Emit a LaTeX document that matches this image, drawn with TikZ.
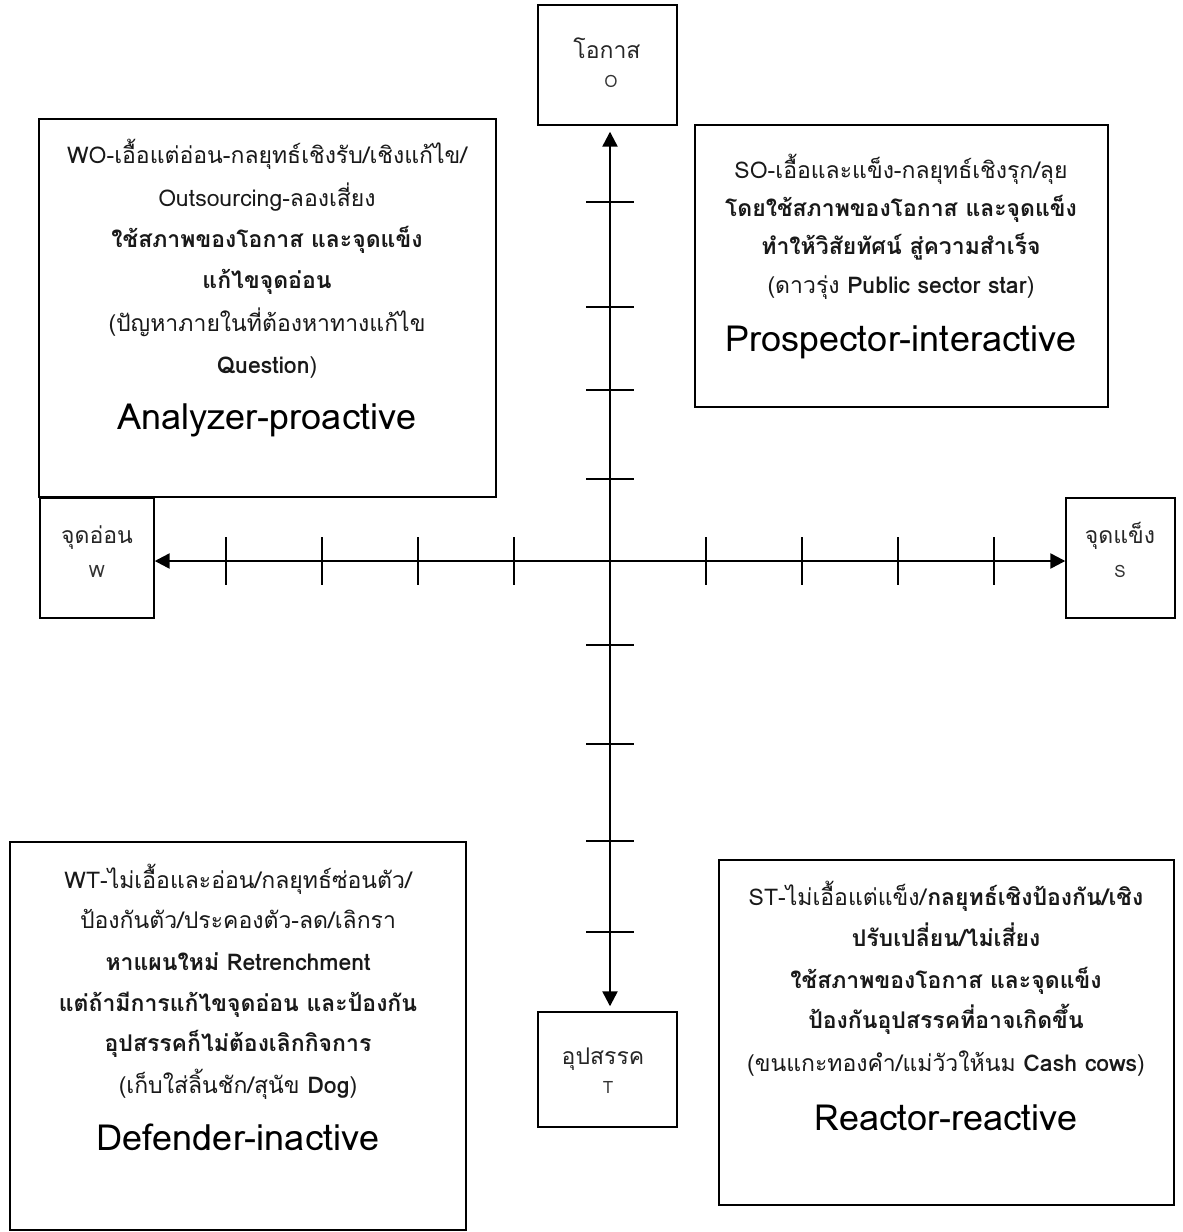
\documentclass[tikz,border=0pt]{standalone}
\usepackage{fontspec}
\setmainfont[Script=Thai]{Loma}
\usetikzlibrary{arrows.meta}
\tikzset{
  box/.style={draw=black, line width=1.4pt, inner sep=0pt, fill=none},
  txt/.style={anchor=base, inner sep=0pt, font=\fontsize{23}{27}\selectfont, text=black!90},
  ttl/.style={anchor=base, inner sep=0pt, font=\fontsize{36}{40}\selectfont, text=black},
  axlbl/.style={anchor=base, inner sep=0pt, font=\fontsize{23}{27}\selectfont, text=black!85},
  axletter/.style={anchor=base, inner sep=0pt, font=\fontsize{17}{20}\selectfont, text=black!80},
  axisline/.style={line width=2.4pt, -{Triangle[length=15pt,width=15pt]}},
  tick/.style={line width=2pt},
}
\begin{document}
\begin{tikzpicture}[x=1pt,y=-1pt]
\useasboundingbox[fill=white] (0,0) rectangle (1183,1232);

% ---- quadrant boxes
\node[box, minimum width=457pt, minimum height=378pt] (wo) at (267.5,308) {};
\node[box, minimum width=413pt, minimum height=282pt] (so) at (901.5,266) {};
\node[box, minimum width=456pt, minimum height=388pt] (wt) at (238,1036) {};
\node[box, minimum width=455pt, minimum height=345pt] (st) at (946.5,1032.5) {};

% ---- axis end boxes
\node[box, minimum width=139pt, minimum height=120pt] (obox) at (607.5,65) {};
\node[box, minimum width=139pt, minimum height=115pt] (tbox) at (607.5,1069.5) {};
\node[box, minimum width=114pt, minimum height=120pt] (wbox) at (97,558) {};
\node[box, minimum width=109pt, minimum height=120pt] (sbox) at (1120.5,558) {};

\node[axlbl] (ol) at (607,58) {โอกาส};
\node[axletter] (oletter) at (611,87) {O};
\node[axlbl] (tl) at (603,1064) {อุปสรรค};
\node[axletter] (tletter) at (608,1093) {T};
\node[axlbl] (wl) at (97,543) {จุดอ่อน};
\node[axletter] (wletter) at (97,577) {W};
\node[axlbl] (sl) at (1120,543) {จุดแข็ง};
\node[axletter] (sletter) at (1120,577) {S};

% ---- axes
\coordinate (ctr) at (610,561);
\draw[axisline] (ctr) -- (wbox.east |- ctr);
\draw[axisline] (ctr) -- (sbox.west |- ctr);
\draw[axisline, shorten >=6pt] (ctr) -- (obox.south -| ctr);
\draw[axisline, shorten >=5pt] (ctr) -- (tbox.north -| ctr);

% ---- ticks
\foreach \x in {226,322,418,514,706,802,898,994}
  \draw[tick] (\x,537) -- (\x,585);
\foreach \y in {202,307,390,479,645,744,841,932}
  \draw[tick] (586,\y) -- (634,\y);

% ---- WO text
\node[txt] (wo1) at (267,163) {WO-เอื้อแต่อ่อน-กลยุทธ์เชิงรับ/เชิงแก้ไข/};
\node[txt] (wo2) at (267,206) {Outsourcing-ลองเสี่ยง};
\node[txt] (wo3) at (267,247) {\bfseries ใช้สภาพของโอกาส และจุดแข็ง};
\node[txt] (wo4) at (267,288) {\bfseries แก้ไขจุดอ่อน};
\node[txt] (wo5) at (267,331) {(ปัญหาภายในที่ต้องหาทางแก้ไข};
\node[txt] (wo6) at (267,373) {\textbf{Question})};
\node[ttl] (wo7) at (267,429) {Analyzer-proactive};

% ---- SO text
\node[txt] (so1) at (901,178) {SO-เอื้อและแข็ง-กลยุทธ์เชิงรุก/ลุย};
\node[txt] (so2) at (901,216) {\bfseries โดยใช้สภาพของโอกาส และจุดแข็ง};
\node[txt] (so3) at (901,254) {\bfseries ทำให้วิสัยทัศน์ สู่ความสำเร็จ};
\node[txt] (so4) at (901,293) {(ดาวรุ่ง \textbf{Public sector star})};
\node[ttl] (so5) at (901,351) {Prospector-interactive};

% ---- WT text
\node[txt] (wt1) at (238,888) {WT-ไม่เอื้อและอ่อน/กลยุทธ์ซ่อนตัว/};
\node[txt] (wt2) at (238,928) {ป้องกันตัว/ประคองตัว-ลด/เลิกรา};
\node[txt] (wt3) at (238,970) {\bfseries หาแผนใหม่ Retrenchment};
\node[txt] (wt4) at (238,1011) {\bfseries แต่ถ้ามีการแก้ไขจุดอ่อน และป้องกัน};
\node[txt] (wt5) at (238,1051) {\bfseries อุปสรรคก็ไม่ต้องเลิกกิจการ};
\node[txt] (wt6) at (238,1093) {(เก็บใส่ลิ้นชัก/สุนัข \textbf{Dog})};
\node[ttl] (wt7) at (238,1150) {Defender-inactive};

% ---- ST text
\node[txt] (st1) at (946,905) {ST-ไม่เอื้อแต่แข็ง/\textbf{กลยุทธ์เชิงป้องกัน/เชิง}};
\node[txt] (st2) at (946,946) {\bfseries ปรับเปลี่ยน/ไม่เสี่ยง};
\node[txt] (st3) at (946,988) {\bfseries ใช้สภาพของโอกาส และจุดแข็ง};
\node[txt] (st4) at (946,1028) {\bfseries ป้องกันอุปสรรคที่อาจเกิดขึ้น};
\node[txt] (st5) at (946,1071) {(ขนแกะทองคำ/แม่วัวให้นม \textbf{Cash cows})};
\node[ttl] (st6) at (946,1130) {Reactor-reactive};
\end{tikzpicture}
\end{document}
